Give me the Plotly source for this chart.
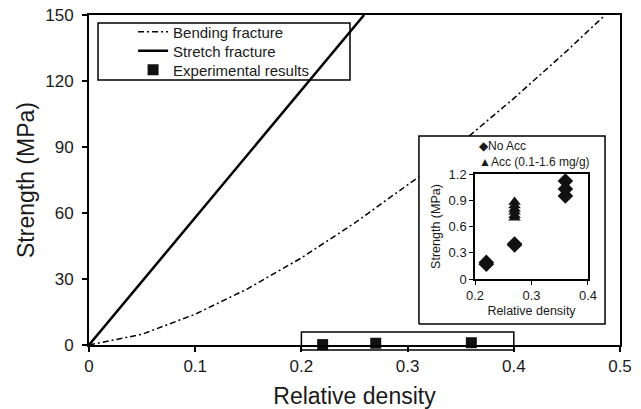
import plotly.graph_objects as go

# ---- data ----
bend_x = [0, 0.05, 0.1, 0.15, 0.2, 0.25, 0.3, 0.311, None, 0.358, 0.4, 0.45, 0.486]
bend_y = [0, 4.9, 14.0, 25.7, 39.6, 55.4, 72.8, 76.5, None, 95.0, 112.1, 133.7, 150]
stretch_x = [0, 0.259]
stretch_y = [0, 150]
exp_x = [0.22, 0.27, 0.36]
exp_y = [0.18, 0.8, 1.03]

noacc_x = [0.22, 0.22, 0.27, 0.27, 0.36, 0.36, 0.36]
noacc_y = [0.19, 0.17, 0.40, 0.39, 1.12, 1.03, 0.95]
acc_x = [0.27, 0.27, 0.27, 0.27, 0.27, 0.27]
acc_y = [0.70, 0.73, 0.77, 0.80, 0.84, 0.88]

main_xticks = [0, 0.1, 0.2, 0.3, 0.4, 0.5]
main_xtext = ["0", "0.1", "0.2", "0.3", "0.4", "0.5"]
main_yticks = [0, 30, 60, 90, 120, 150]
inset_xticks = [0.2, 0.3, 0.4]
inset_xtext = ["0.2", "0.3", "0.4"]
inset_yticks = [0, 0.3, 0.6, 0.9, 1.2]
inset_ytext = ["0", "0.3", "0.6", "0.9", "1.2"]

# inset frame (in main data coords)
inset_frame_x = [0.3107, 0.4859, 0.4859, 0.3107, 0.3107]
inset_frame_y = [9.55, 9.55, 95.0, 95.0, 9.55]

FONT = "Arial, Liberation Sans, Helvetica, sans-serif"
TXT = "#1a1a1a"

fig = go.Figure()
fig.add_trace(go.Scatter(x=bend_x, y=bend_y, mode="lines", name="Bending fracture",
                         line=dict(color="black", width=1.5, dash="6px,3px,2px,3px"),
                         connectgaps=False, hoverinfo="skip", legend="legend"))
fig.add_trace(go.Scatter(x=stretch_x, y=stretch_y, mode="lines", name="Stretch fracture",
                         line=dict(color="black", width=2.5), hoverinfo="skip",
                         legend="legend2"))
fig.add_trace(go.Scatter(x=exp_x, y=exp_y, mode="markers", name="Experimental results",
                         marker=dict(symbol="square", size=11, color="#111"),
                         cliponaxis=False, legend="legend3"))
# white inset frame covering main curve
fig.add_trace(go.Scatter(x=inset_frame_x, y=inset_frame_y, mode="lines", fill="toself",
                         fillcolor="white", line=dict(color="black", width=1.5),
                         showlegend=False, hoverinfo="skip"))
# inset data
fig.add_trace(go.Scatter(x=noacc_x, y=noacc_y, mode="markers", name="No Acc",
                         marker=dict(symbol="diamond", size=12, color="#111"),
                         xaxis="x2", yaxis="y2", showlegend=False, cliponaxis=False))
fig.add_trace(go.Scatter(x=acc_x, y=acc_y, mode="markers", name="Acc (0.1-1.6 mg/g)",
                         marker=dict(symbol="triangle-up", size=11, color="#111"),
                         xaxis="x2", yaxis="y2", showlegend=False, cliponaxis=False))

axis_common = dict(showline=True, linecolor="black", mirror=True, ticks="outside",
                   tickcolor="black", showgrid=False, zeroline=False, automargin=False)

def leg(ypix):
    return dict(x=0.083, y=(345 - ypix) / 330, xanchor="left", yanchor="middle",
                bgcolor="rgba(0,0,0,0)", borderwidth=0,
                font=dict(size=15, family=FONT, color=TXT), itemwidth=30)

fig.update_layout(
    width=641, height=409,
    margin=dict(l=89, r=21, t=15, b=64, autoexpand=False),
    paper_bgcolor="white", plot_bgcolor="white",
    font=dict(family=FONT, color=TXT),
    xaxis=dict(range=[0, 0.5], tickvals=main_xticks, ticktext=main_xtext,
               linewidth=2, ticklen=5, tickwidth=1.5,
               tickfont=dict(size=17),
               title=dict(text="Relative density", font=dict(size=23), standoff=12),
               domain=[0, 1], **axis_common),
    yaxis=dict(range=[0, 150], tickvals=main_yticks,
               linewidth=2, ticklen=5, tickwidth=1.5, ticklabelstandoff=5,
               tickfont=dict(size=17),
               title=dict(text="Strength (MPa)", font=dict(size=23), standoff=4),
               domain=[0, 1], **axis_common),
    xaxis2=dict(range=[0.2, 0.4], tickvals=inset_xticks, ticktext=inset_xtext,
                domain=[0.727, 0.9397], anchor="y2", linewidth=1.5, ticklen=4,
                tickfont=dict(size=13),
                title=dict(text="Relative density", font=dict(size=12.5), standoff=4),
                **axis_common),
    yaxis2=dict(range=[0, 1.2], tickvals=inset_yticks, ticktext=inset_ytext,
                domain=[0.2, 0.518], anchor="x2", linewidth=1.5, ticklen=4,
                tickfont=dict(size=13),
                title=dict(text="Strength (MPa)", font=dict(size=12.5), standoff=5),
                **axis_common),
    legend=leg(32),
    legend2=leg(51),
    legend3=leg(70),
    showlegend=True,
)

# legend frame
fig.add_shape(type="rect", xref="paper", yref="paper", x0=0.017, x1=0.4915,
              y0=0.803, y1=0.9758, line=dict(color="black", width=1.5))
# experimental box
fig.add_shape(type="rect", xref="x", yref="paper", x0=0.2, x1=0.4,
              y0=-0.015, y1=0.0394, line=dict(color="black", width=1.5))

# inset legend
fig.add_annotation(xref="paper", yref="paper", x=(477 - 89) / 531, y=(345 - 146) / 330,
                   xanchor="left", yanchor="middle", showarrow=False,
                   text="◆No Acc", font=dict(size=12, family=FONT, color=TXT))
fig.add_annotation(xref="paper", yref="paper", x=(477 - 89) / 531, y=(345 - 162) / 330,
                   xanchor="left", yanchor="middle", showarrow=False,
                   text="▲Acc (0.1-1.6 mg/g)", font=dict(size=12, family=FONT, color=TXT))

fig.write_html("out.html")
